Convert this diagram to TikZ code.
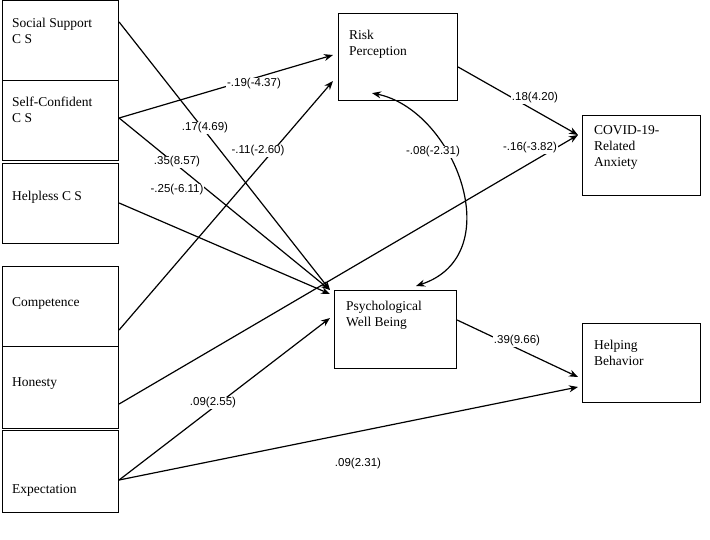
\documentclass[tikz,border=0pt]{standalone}
\usepackage{fontspec}
\setmainfont{Liberation Serif}
\newfontfamily\lab{Liberation Sans}
\usetikzlibrary{arrows.meta,calc}
\begin{document}
\begin{tikzpicture}[x=1pt,y=-1pt,
 box/.style={draw,line width=1.1pt,minimum width=#1,anchor=north west,inner sep=0pt},
 bt/.style={anchor=north west,align=left,font=\fontsize{13.5}{16}\selectfont,inner sep=0pt},
 lb/.style={font=\lab\fontsize{11.5}{13}\selectfont,fill=white,inner sep=1pt},
 ar/.style={-{Stealth[length=9pt,width=7pt]},line width=1.2pt}]
\useasboundingbox (0,0) rectangle (710,540);
\node[box=116pt,minimum height=80pt] (ss) at (2,0) {};
\node[box=116pt,minimum height=80pt] (sc) at (2,80) {};
\node[box=116pt,minimum height=80pt] (hl) at (2,163) {};
\node[box=116pt,minimum height=80pt] (co) at (2,266) {};
\node[box=116pt,minimum height=82pt] (ho) at (2,346) {};
\node[box=116pt,minimum height=82pt] (ex) at (2,430) {};
\node[box=119pt,minimum height=87pt] (rp) at (338,13) {};
\node[box=118pt,minimum height=80pt] (ca) at (582,115) {};
\node[box=122pt,minimum height=78pt] (pw) at (334,290) {};
\node[box=118pt,minimum height=79pt] (hb) at (582,323) {};
\node[bt] at (12,18) {Social Support\\C S};
\node[bt] at (12,97) {Self-Confident\\C S};
\node[bt] at (12,191) {Helpless C S};
\node[bt] at (12,297) {Competence};
\node[bt] at (12,377) {Honesty};
\node[bt] at (12,484) {Expectation};
\node[bt] at (349,30) {Risk\\Perception};
\node[bt] at (594,125) {COVID-19-\\Related\\Anxiety};
\node[bt] at (346,301) {Psychological\\Well Being};
\node[bt] at (594,340) {Helping\\Behavior};
\coordinate (pwA) at ($(pw.north west)+(-4,0)$);
\coordinate (pwB) at ($(pw.north west)+(-4,4)$);
\coordinate (pwC) at ($(pw.north west)+(-4,28)$);
\draw[ar] ($(ss.north east)+(0,22)$) -- (pwA);
\draw[ar] ($(sc.north east)+(0,38)$) -- ($(rp.north west)+(-5,42)$);
\draw[ar] ($(sc.north east)+(0,38)$) -- (pwA);
\draw[ar] ($(hl.north east)+(0,40)$) -- (pwB);
\draw[ar] ($(co.north east)+(0,64)$) -- ($(rp.north west)+(-5,68)$);
\draw[ar] ($(ho.north east)+(0,58)$) -- ($(ca.north west)+(-4,20)$);
\draw[ar] ($(ex.north east)+(0,50)$) -- (pwC);
\draw[ar] ($(ex.north east)+(0,50)$) -- ($(hb.north west)+(-4,64)$);
\draw[ar] ($(rp.north east)+(0,54)$) -- ($(ca.north west)+(-4,20)$);
\draw[ar] ($(pw.north east)+(0,30)$) -- ($(hb.north west)+(-4,54)$);
\draw[line width=1.2pt,{Stealth[length=9pt,width=7pt]}-{Stealth[length=9pt,width=7pt]}]
  ($(rp.south west)+(34,-8)$) .. controls (455,110) and (510,255) .. ($(pw.north west)+(82,-4)$);
\node[lb] at (205,128) {.17(4.69)};
\node[lb] at (254,84) {-.19(-4.37)};
\node[lb] at (177,162) {.35(8.57)};
\node[lb] at (177,190) {-.25(-6.11)};
\node[lb] at (258,151) {-.11(-2.60)};
\node[lb] at (530,148) {-.16(-3.82)};
\node[lb] at (433,152) {-.08(-2.31)};
\node[lb] at (535,98) {.18(4.20)};
\node[lb] at (517,341) {.39(9.66)};
\node[lb] at (213,403) {.09(2.55)};
\node[lb] at (358,464) {.09(2.31)};
\end{tikzpicture}
\end{document}
